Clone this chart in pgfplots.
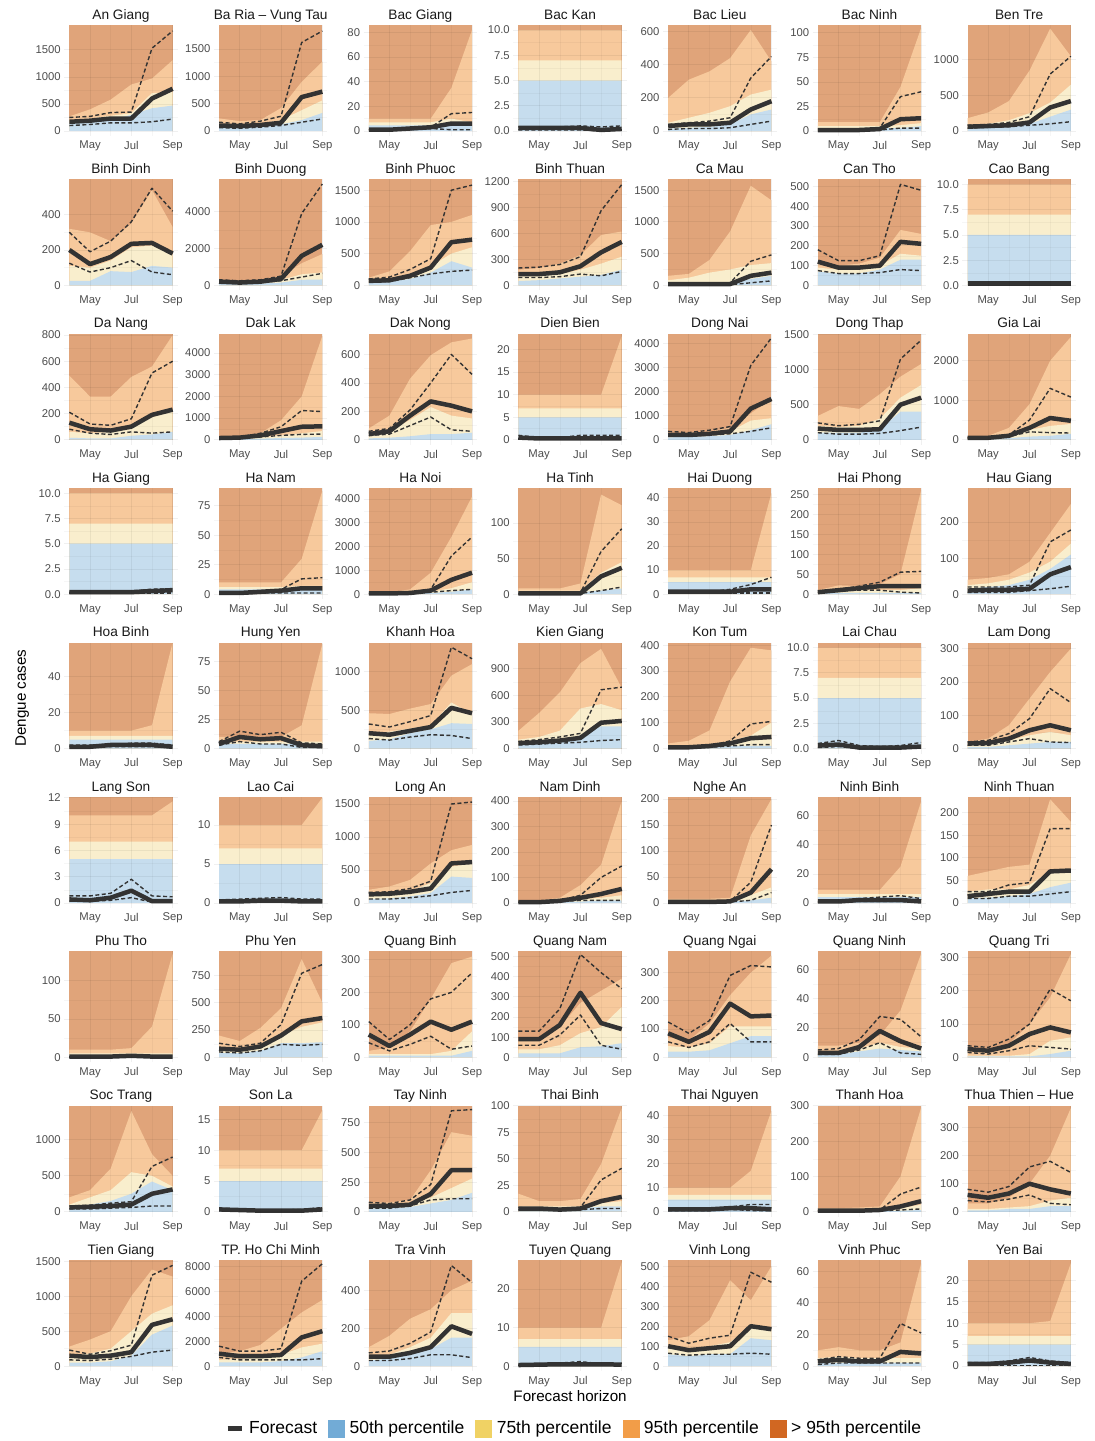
\documentclass[border=0pt]{standalone}
\usepackage{fontspec}
\setmainfont{Liberation Sans}
\usepackage{pgfplots}
\pgfplotsset{compat=1.18}
\usepgfplotslibrary{groupplots}

\definecolor{cR}{HTML}{E0A47A}
\definecolor{cO}{HTML}{F7C99C}
\definecolor{cY}{HTML}{F9EECD}
\definecolor{cB}{HTML}{C6DDEE}
\definecolor{lc}{HTML}{333333}
\definecolor{tg}{HTML}{4D4D4D}
\definecolor{kLB}{HTML}{72ABD6}
\definecolor{kLY}{HTML}{F0D264}
\definecolor{kLO}{HTML}{F29D48}
\definecolor{kLR}{HTML}{D16722}

\tikzset{
  mline/.style={lc, line width=4.5pt, line join=round},
  qline/.style={lc, line width=1.4pt, dash pattern=on 4pt off 2.5pt, line join=round},
}
\pgfplotsset{
  dec/.style={yticklabel style={/pgf/number format/.cd, fixed, zerofill, precision=1}},
  every axis y label/.style={at={(rel axis cs:0,0.5)}, xshift=-42pt, rotate=90, anchor=center,
    font=\fontsize{15.2}{18}\selectfont},
  every axis x label/.style={at={(rel axis cs:0.5,0)}, yshift=-25pt, anchor=center,
    font=\fontsize{15.2}{18}\selectfont},
  every axis title/.style={at={(0.5,1)}, anchor=base, yshift=6pt,
    font=\fontsize{13.7}{16}\selectfont, text=black!90},
}

% one panel: [extra options]{title}{ymin}{top}{y ticks}
\newcommand\panel[5][]{%
  \nextgroupplot[title={#2}, ymin=#3, ymax=#4, ytick={#5}, #1]
  \addplot[draw=none, fill=cR] coordinates {(4,#4) (9,#4)} \closedcycle;}
% series over Apr..Sep
\def\Ar#1:#2 #3 #4 #5 #6 #7;{\addplot[draw=none, fill=#1] coordinates {(4,#2) (5,#3) (6,#4) (7,#5) (8,#6) (9,#7)} \closedcycle;}
\def\Ln#1:#2 #3 #4 #5 #6 #7;{\addplot[#1] coordinates {(4,#2) (5,#3) (6,#4) (7,#5) (8,#6) (9,#7)};}

\begin{document}
\begin{tikzpicture}
\begin{groupplot}[
  group style={group size=7 by 9, horizontal sep=36.1pt, vertical sep=43.4pt},
  scale only axis, width=113.6pt, height=111pt,
  xmin=3.75, xmax=9.25,
  xtick={5,7,9}, xticklabels={May,Jul,Sep},
  minor x tick num=1, minor y tick num=1,
  grid=both,
  major grid style={black, opacity=0.06, line width=0.8pt},
  minor grid style={black, opacity=0.035, line width=0.4pt},
  axis line style={draw=none},
  major tick length=0pt, minor tick length=0pt,
  axis on top,
  scaled y ticks=false,
  /pgf/number format/1000 sep={},
  /pgf/number format/assume math mode=true,
  tick label style={font=\fontsize{11.3}{13}\selectfont, text=tg},
  xticklabel style={yshift=-1.5pt},
]
% ---- row 1
\panel{An Giang}{-93}{1960}{0,500,1000,1500}
\Ar cO:270 400 580 860 970 1310;
\Ar cY:200 230 280 330 700 720;
\Ar cB:150 170 200 300 420 470;
\Ln qline:250 270 340 350 1530 1850;
\Ln qline:100 120 150 150 170 220;
\Ln mline:170 190 230 230 600 780;
\panel{Ba Ria -- Vung Tau}{-92}{1940}{0,500,1000,1500}
\Ar cO:230 180 200 420 900 1270;
\Ar cY:100 90 130 200 380 560;
\Ar cB:50 60 80 120 200 330;
\Ln qline:160 130 180 270 1620 1830;
\Ln qline:60 50 70 100 160 220;
\Ln mline:100 90 110 150 620 720;
\panel{Bac Giang}{-4.1}{86}{0,20,40,60,80}
\Ar cO:10 10 10 10 35 82;
\Ar cY:7 7 7 7 10 7;
\Ar cB:4.5 4.5 4.5 4.5 4.5 5;
\Ln qline:1 1 2 3 14 15;
\Ln qline:1 1 1 2 1 1;
\Ln mline:1 1 2 3 6 6;
\panel[dec]{Bac Kan}{-0.5}{10.5}{0,2.5,5,7.5,10}
\Ar cO:10 10 10 10 10 10;
\Ar cY:7 7 7 7 7 7;
\Ar cB:5 5 5 5 5 5;
\Ln qline:0.4 0.4 0.4 0.5 0.4 0.5;
\Ln qline:0.1 0.1 0.1 0.1 0 0.1;
\Ln mline:0.3 0.3 0.3 0.3 0.1 0.2;
\panel{Bac Lieu}{-30}{640}{0,200,400,600}
\Ar cO:200 310 360 440 610 420;
\Ar cY:50 80 110 150 220 250;
\Ar cB:15 20 25 40 100 130;
\Ln qline:40 50 60 80 320 450;
\Ln qline:10 15 15 20 40 60;
\Ln mline:30 40 40 50 130 180;
\panel{Bac Ninh}{-5.1}{108}{0,25,50,75,100}
\Ar cO:9 9 9 9 45 105;
\Ar cY:5 5 5 5 6 8;
\Ar cB:3 3 3 3 3 5;
\Ln qline:2 2 2 3 35 40;
\Ln qline:0 0 0 1 3 3;
\Ln mline:1 1 1 2 12 13;
\panel{Ben Tre}{-71}{1490}{0,500,1000}
\Ar cO:180 260 420 850 1440 1050;
\Ar cY:80 100 150 250 400 650;
\Ar cB:40 50 60 100 200 300;
\Ln qline:80 90 120 200 800 1050;
\Ln qline:40 50 60 80 100 130;
\Ln mline:60 70 80 120 330 420;
% ---- row 2
\panel{Binh Dinh}{-29}{600}{0,200,400}
\Ar cO:320 300 250 350 540 330;
\Ar cY:110 100 140 215 225 175;
\Ar cB:25 25 80 75 110 100;
\Ln qline:300 190 250 360 550 420;
\Ln qline:125 75 100 140 75 60;
\Ln mline:200 120 160 235 240 180;
\panel{Binh Duong}{-274}{5750}{0,2000,4000}
\Ar cO:300 250 300 500 1200 1700;
\Ar cY:200 200 200 300 600 700;
\Ar cB:100 100 100 150 300 320;
\Ln qline:300 250 300 500 3900 5500;
\Ln qline:150 100 150 250 450 650;
\Ln mline:200 150 200 350 1600 2200;
\panel{Binh Phuoc}{-80}{1670}{0,500,1000,1500}
\Ar cO:120 220 540 950 1000 1110;
\Ar cY:80 100 180 300 500 600;
\Ar cB:50 60 100 200 380 280;
\Ln qline:100 130 250 420 1500 1580;
\Ln qline:50 60 120 180 220 240;
\Ln mline:70 80 150 280 680 720;
\panel{Binh Thuan}{-58}{1220}{0,300,600,900,1200}
\Ar cO:180 200 250 350 580 620;
\Ar cY:110 110 130 180 250 330;
\Ar cB:50 60 80 100 120 180;
\Ln qline:200 210 240 330 860 1160;
\Ln qline:90 90 100 130 110 160;
\Ln mline:130 130 150 220 380 500;
\panel{Ca Mau}{-80}{1670}{0,500,1000,1500}
\Ar cO:150 180 400 850 1570 1340;
\Ar cY:80 120 200 250 320 350;
\Ar cB:20 20 30 40 100 150;
\Ln qline:30 30 30 40 380 480;
\Ln qline:10 10 10 10 40 70;
\Ln mline:20 20 20 20 150 200;
\panel{Can Tho}{-25}{535}{0,100,200,300,400,500}
\Ar cO:120 100 110 140 280 260;
\Ar cY:90 80 80 100 160 150;
\Ar cB:70 60 60 80 130 130;
\Ln qline:180 125 125 150 510 480;
\Ln qline:75 60 60 65 80 75;
\Ln mline:120 90 90 100 220 210;
\panel[dec]{Cao Bang}{-0.5}{10.5}{0,2.5,5,7.5,10}
\Ar cO:10 10 10 10 10 10;
\Ar cY:7 7 7 7 7 7;
\Ar cB:5 5 5 5 5 5;
\Ln qline:0.3 0.3 0.3 0.3 0.3 0.3;
\Ln qline:0.1 0.1 0.1 0.1 0.1 0.1;
\Ln mline:0.2 0.2 0.2 0.2 0.2 0.2;
% ---- row 3
\panel{Da Nang}{-39}{810}{0,200,400,600,800}
\Ar cO:490 330 330 480 560 800;
\Ar cY:60 50 60 100 170 220;
\Ar cB:15 10 10 30 40 60;
\Ln qline:210 120 110 160 510 600;
\Ln qline:80 50 40 60 50 60;
\Ln mline:130 80 70 100 190 230;
\panel{Dak Lak}{-233}{4890}{0,1000,2000,3000,4000}
\Ar cO:80 120 300 900 2000 4800;
\Ar cY:50 60 100 200 300 400;
\Ar cB:30 30 50 80 100 130;
\Ln qline:90 120 300 600 1350 1300;
\Ln qline:70 80 130 200 250 260;
\Ln mline:80 100 200 400 600 620;
\panel{Dak Nong}{-35}{745}{0,200,400,600}
\Ar cO:80 170 430 595 685 712;
\Ar cY:30 60 140 230 170 150;
\Ar cB:10 15 25 40 40 50;
\Ln qline:60 80 210 400 600 460;
\Ln qline:30 40 100 160 70 60;
\Ln mline:40 60 170 270 240 200;
\panel{Dien Bien}{-1.1}{23.5}{0,5,10,15,20}
\Ar cO:10 10 10 10 10 23;
\Ar cY:7 7 7 7 7 7;
\Ar cB:5 5 5 5 5 5;
\Ln qline:1 0.5 0.5 1 1 1;
\Ln qline:0.2 0.2 0.2 0.2 0.2 0.2;
\Ln mline:0.5 0.3 0.3 0.3 0.3 0.3;
\panel{Dong Nai}{-210}{4420}{0,1000,2000,3000,4000}
\Ar cO:300 300 350 500 1100 1700;
\Ar cY:200 200 250 350 800 900;
\Ar cB:100 120 150 200 400 650;
\Ln qline:350 300 400 550 3100 4250;
\Ln qline:150 150 200 250 350 500;
\Ln mline:200 200 250 350 1300 1700;
\panel{Dong Thap}{-72}{1510}{0,500,1000,1500}
\Ar cO:340 480 440 650 900 1080;
\Ar cY:200 180 200 300 600 780;
\Ar cB:100 100 100 150 400 400;
\Ln qline:240 200 220 270 1150 1420;
\Ln qline:100 80 80 90 130 180;
\Ln mline:160 140 140 150 500 600;
\panel{Gia Lai}{-128}{2680}{0,1000,2000}
\Ar cO:80 100 300 900 2000 2600;
\Ar cY:60 50 100 250 350 400;
\Ar cB:30 30 40 80 100 150;
\Ln qline:60 60 120 500 1300 1080;
\Ln qline:40 40 80 200 180 170;
\Ln mline:50 50 100 300 550 480;
% ---- row 4
\panel[dec]{Ha Giang}{-0.5}{10.5}{0,2.5,5,7.5,10}
\Ar cO:10 10 10 10 10 10;
\Ar cY:7 7 7 7 7 7;
\Ar cB:5 5 5 5 5 5;
\Ln qline:0.2 0.2 0.2 0.3 0.5 0.5;
\Ln qline:0.1 0.1 0.1 0.1 0.1 0.1;
\Ln mline:0.2 0.2 0.2 0.2 0.3 0.4;
\panel{Ha Nam}{-4.3}{90}{0,25,50,75}
\Ar cO:10 10 10 10 30 88;
\Ar cY:6 6 6 6 7 7;
\Ar cB:4 4 4 4 4 4;
\Ln qline:1 1 2 4 13 14;
\Ln qline:0 0 1 1 1 1;
\Ln mline:1 1 2 3 5 5;
\panel{Ha Noi}{-212}{4450}{0,1000,2000,3000,4000}
\Ar cO:50 80 200 900 2400 4100;
\Ar cY:20 30 50 100 250 500;
\Ar cB:10 10 20 50 100 200;
\Ln qline:40 40 80 200 1600 2400;
\Ln qline:20 20 30 80 150 200;
\Ln mline:30 30 50 150 600 900;
\panel{Ha Tinh}{-7.1}{149}{0,50,100}
\Ar cO:8 8 8 15 140 125;
\Ar cY:5 5 5 5 30 45;
\Ar cB:3 3 3 3 5 8;
\Ln qline:1 1 1 2 60 92;
\Ln qline:0 0 0 1 5 10;
\Ln mline:1 1 1 1 25 37;
\panel{Hai Duong}{-2.1}{44}{0,10,20,30,40}
\Ar cO:10 10 10 10 10 42;
\Ar cY:7 7 7 7 7 7;
\Ar cB:5 5 5 5 5 5;
\Ln qline:1 1 1 2 4 7;
\Ln qline:0.5 0.5 0.5 0.5 0.5 0.5;
\Ln mline:1 1 1 1 2 2;
\panel{Hai Phong}{-12.6}{265}{0,50,100,150,200,250}
\Ar cO:10 22 20 25 50 260;
\Ar cY:8 10 10 10 10 15;
\Ar cB:5 3 3 3 3 3;
\Ln qline:5 12 20 30 55 57;
\Ln qline:5 8 10 10 5 3;
\Ln mline:5 10 15 20 20 20;
\panel{Hau Giang}{-14}{294}{0,100,200}
\Ar cO:40 45 55 90 170 250;
\Ar cY:25 30 40 60 90 140;
\Ar cB:15 20 25 40 70 110;
\Ln qline:20 20 20 25 145 178;
\Ln qline:5 5 5 10 15 22;
\Ln mline:10 12 12 15 55 75;
% ---- row 5
\panel[ylabel={Dengue cases}]{Hoa Binh}{-2.8}{59}{0,20,40}
\Ar cO:10 10 10 10 13 59;
\Ar cY:7 7 7 7 7 7;
\Ar cB:5 5 5 5 5 5;
\Ln qline:2 2 2 3 3 2;
\Ln qline:1 1 1 1 1 0.5;
\Ln mline:1 1 2 2 2 1;
\panel{Hung Yen}{-4.3}{91}{0,25,50,75}
\Ar cO:10 10 10 10 20 90;
\Ar cY:6 6 6 6 6 6;
\Ar cB:4 4 4 4 4 4;
\Ln qline:6 15 12 14 5 4;
\Ln qline:3 6 4 4 1 1;
\Ln mline:4 10 8 9 3 2;
\panel{Khanh Hoa}{-66}{1380}{0,500,1000}
\Ar cO:460 450 520 580 950 1100;
\Ar cY:200 220 260 300 600 450;
\Ar cB:100 120 200 250 330 320;
\Ln qline:320 280 350 430 1320 1170;
\Ln qline:130 110 150 180 170 130;
\Ln mline:200 180 230 280 530 460;
\panel{Kien Giang}{-57}{1190}{0,300,600,900}
\Ar cO:200 400 630 960 1120 680;
\Ar cY:100 130 200 450 500 430;
\Ar cB:50 60 80 150 250 250;
\Ln qline:80 100 130 170 660 690;
\Ln qline:40 50 60 70 90 100;
\Ln mline:60 70 90 120 290 310;
\panel{Kon Tum}{-19.5}{410}{0,100,200,300,400}
\Ar cO:20 30 70 260 390 380;
\Ar cY:10 10 15 30 50 100;
\Ar cB:5 5 5 10 10 10;
\Ln qline:5 5 10 30 95 105;
\Ln qline:3 3 5 10 15 15;
\Ln mline:5 5 10 20 40 45;
\panel[dec]{Lai Chau}{-0.5}{10.5}{0,2.5,5,7.5,10}
\Ar cO:10 10 10 10 10 10;
\Ar cY:7 7 7 7 7 7;
\Ar cB:5 5 5 5 5 5;
\Ln qline:0.5 0.8 0.3 0.2 0.3 0.6;
\Ln qline:0.1 0.2 0 0 0 0.1;
\Ln mline:0.3 0.4 0.1 0.1 0.1 0.2;
\panel{Lam Dong}{-15}{318}{0,100,200,300}
\Ar cO:20 30 70 150 230 300;
\Ar cY:10 15 25 40 50 40;
\Ar cB:5 5 10 15 20 20;
\Ln qline:20 25 45 90 180 138;
\Ln qline:10 10 20 30 20 18;
\Ln mline:15 17 30 55 70 55;
% ---- row 6
\panel{Lang Son}{-0.58}{12.1}{0,3,6,9,12}
\Ar cO:10 10 10 10 10 11.6;
\Ar cY:7 7 7 7 7 7;
\Ar cB:5 5 5 5 5 5;
\Ln qline:0.8 0.8 1.1 2.7 0.8 0.7;
\Ln qline:0.2 0.2 0.3 0.6 0.1 0.1;
\Ln mline:0.4 0.3 0.6 1.4 0.2 0.2;
\panel{Lao Cai}{-0.65}{13.6}{0,5,10}
\Ar cO:10 10 10 10 10 13.5;
\Ar cY:7 7 7 7 7 7;
\Ar cB:5 5 5 5 5 5;
\Ln qline:0.4 0.5 0.6 0.7 0.5 0.5;
\Ln qline:0.1 0.1 0.1 0.1 0.1 0.1;
\Ln mline:0.2 0.2 0.3 0.3 0.2 0.2;
\panel{Long An}{-76}{1606}{0,500,1000,1500}
\Ar cO:200 250 350 600 800 880;
\Ar cY:100 120 180 300 550 600;
\Ar cB:60 70 100 150 400 380;
\Ln qline:160 170 220 330 1500 1530;
\Ln qline:60 60 80 110 160 190;
\Ln mline:130 140 170 220 600 620;
\panel{Nam Dinh}{-20}{416}{0,100,200,300,400}
\Ar cO:10 10 20 70 150 400;
\Ar cY:8 8 10 15 20 30;
\Ar cB:5 5 5 5 10 10;
\Ln qline:3 3 10 30 100 145;
\Ln qline:2 2 5 10 10 10;
\Ln mline:3 3 8 20 35 55;
\panel{Nghe An}{-9.7}{204}{0,50,100,150,200}
\Ar cO:8 8 8 10 130 200;
\Ar cY:5 5 5 5 15 30;
\Ar cB:3 3 3 3 5 10;
\Ln qline:2 2 2 3 40 150;
\Ln qline:1 1 1 2 5 20;
\Ln mline:2 2 2 3 20 65;
\panel{Ninh Binh}{-3.5}{73}{0,20,40,60}
\Ar cO:9 9 9 9 25 70;
\Ar cY:6 6 6 6 6 6;
\Ar cB:4 4 4 4 4 4;
\Ln qline:1 1 3 4 5 3;
\Ln qline:0.5 0.5 1 1 1 0.5;
\Ln mline:1 1 2 2 2 1;
\panel{Ninh Thuan}{-11.2}{235}{0,50,100,150,200}
\Ar cO:60 70 80 85 230 180;
\Ar cY:25 30 30 40 70 75;
\Ar cB:10 12 15 20 35 45;
\Ln qline:25 25 40 45 165 165;
\Ln qline:10 10 15 15 20 25;
\Ln mline:15 20 25 25 70 72;
% ---- row 7
\panel{Phu Tho}{-6.6}{138}{0,50,100}
\Ar cO:10 10 10 12 40 135;
\Ar cY:5 5 5 5 5 5;
\Ar cB:3 3 3 3 3 3;
\Ln qline:1 1 1 3 2 1;
\Ln qline:0.5 0.5 0.5 0.5 0.5 0.5;
\Ln mline:1 1 1 2 1 1;
\panel{Phu Yen}{-46}{970}{0,250,500,750}
\Ar cO:200 150 270 450 900 500;
\Ar cY:70 60 90 200 280 320;
\Ar cB:40 40 60 130 130 140;
\Ln qline:130 100 130 300 770 850;
\Ln qline:50 40 60 120 110 120;
\Ln mline:80 70 100 200 330 360;
\panel{Quang Binh}{-15.5}{326}{0,100,200,300}
\Ar cO:20 30 80 180 290 310;
\Ar cY:10 10 10 10 20 80;
\Ar cB:5 5 5 5 5 20;
\Ln qline:110 55 100 180 200 260;
\Ln qline:45 20 40 65 25 35;
\Ln mline:70 35 70 110 85 110;
\panel{Quang Nam}{-25}{525}{0,100,200,300,400,500}
\Ar cO:80 90 150 270 330 390;
\Ar cY:40 40 60 120 150 250;
\Ar cB:20 20 20 50 55 70;
\Ln qline:130 130 240 510 420 340;
\Ln qline:60 60 110 210 60 40;
\Ln mline:90 90 160 320 170 140;
\panel{Quang Ngai}{-17.9}{375}{0,100,200,300}
\Ar cO:70 60 120 220 300 360;
\Ar cY:40 35 50 110 110 110;
\Ar cB:20 20 25 50 75 75;
\Ln qline:125 85 130 290 325 320;
\Ln qline:55 35 55 120 55 55;
\Ln mline:85 55 90 190 145 148;
\panel{Quang Ninh}{-3.5}{72.5}{0,20,40,60}
\Ar cO:8 8 10 15 32 71;
\Ar cY:3 4 6 10 7 6;
\Ar cB:2 2 4 6 5 4;
\Ln qline:5 6 12 28 26 14;
\Ln qline:2 2 5 10 3 2;
\Ln mline:3 3 7 18 11 6;
\panel{Quang Tri}{-15}{318}{0,100,200,300}
\Ar cO:20 20 40 100 180 310;
\Ar cY:5 5 5 10 50 60;
\Ar cB:3 3 3 3 10 20;
\Ln qline:35 30 55 100 205 170;
\Ln qline:15 10 20 35 30 25;
\Ln mline:25 20 35 70 90 75;
% ---- row 8
\panel{Soc Trang}{-70}{1472}{0,500,1000}
\Ar cO:200 300 600 1400 800 500;
\Ar cY:100 200 300 550 500 350;
\Ar cB:50 100 150 250 420 300;
\Ln qline:80 90 120 140 630 760;
\Ln qline:40 40 50 60 80 80;
\Ln mline:60 70 80 100 250 310;
\panel{Son La}{-0.8}{17.2}{0,5,10,15}
\Ar cO:10 10 10 10 10 16.5;
\Ar cY:7 7 7 7 7 7;
\Ar cB:5 5 5 5 5 5;
\Ln qline:0.6 0.4 0.3 0.3 0.4 0.7;
\Ln qline:0.2 0.1 0.1 0.1 0.1 0.2;
\Ln mline:0.4 0.3 0.2 0.2 0.2 0.4;
\panel{Tay Ninh}{-42}{892}{0,250,500,750}
\Ar cO:80 80 100 350 670 640;
\Ar cY:50 50 60 120 200 280;
\Ar cB:30 30 40 70 100 160;
\Ln qline:80 70 100 230 850 860;
\Ln qline:30 30 50 100 110 110;
\Ln mline:50 50 60 150 350 350;
\panel{Thai Binh}{-4.8}{100}{0,25,50,75,100}
\Ar cO:17 10 10 12 45 98;
\Ar cY:5 5 5 5 8 10;
\Ar cB:3 3 3 3 5 5;
\Ln qline:4 3 3 4 30 41;
\Ln qline:2 2 2 2 3 3;
\Ln mline:3 3 2 3 10 14;
\panel{Thai Nguyen}{-2.1}{44}{0,10,20,30,40}
\Ar cO:10 10 10 10 17 42;
\Ar cY:7 7 7 7 7 7;
\Ar cB:5 5 5 5 5 5;
\Ln qline:1 1 1 2 3 3;
\Ln qline:0.5 0.5 0.5 1 0.5 0.5;
\Ln mline:1 1 1 1.5 1.5 1;
\panel{Thanh Hoa}{-14.3}{300}{0,100,200,300}
\Ar cO:10 10 12 15 100 295;
\Ar cY:5 5 5 5 10 20;
\Ar cB:2 2 2 2 3 5;
\Ln qline:3 3 3 5 50 70;
\Ln qline:2 2 2 3 5 8;
\Ln mline:3 3 3 5 15 30;
\panel{Thua Thien -- Hue}{-18}{378}{0,100,200,300}
\Ar cO:30 30 50 100 200 370;
\Ar cY:10 10 15 20 40 50;
\Ar cB:5 5 10 10 20 20;
\Ln qline:80 70 90 160 180 140;
\Ln qline:40 35 45 60 30 25;
\Ln mline:60 50 65 100 80 65;
% ---- row 9
\panel{Tien Giang}{-72}{1514}{0,500,1000,1500}
\Ar cO:280 380 500 1000 1380 1280;
\Ar cY:150 180 250 500 750 870;
\Ar cB:50 50 70 150 450 580;
\Ln qline:230 170 220 300 1300 1440;
\Ln qline:90 80 100 140 200 230;
\Ln mline:150 130 150 200 590 670;
\panel{TP. Ho Chi Minh}{-404}{8480}{0,2000,4000,6000,8000}
\Ar cO:1000 1200 1700 3000 4300 5300;
\Ar cY:500 600 700 900 1500 1800;
\Ar cB:300 300 300 400 700 1200;
\Ln qline:1600 1200 1200 1400 6800 8200;
\Ln qline:700 500 500 500 500 600;
\Ln mline:1000 800 800 900 2300 2800;
\panel{Tra Vinh}{-26.6}{558}{0,200,400}
\Ar cO:100 160 250 300 400 450;
\Ar cY:50 60 100 150 280 280;
\Ar cB:30 40 60 90 150 150;
\Ln qline:70 80 120 180 530 440;
\Ln qline:30 30 40 60 60 45;
\Ln mline:50 50 70 100 210 170;
\panel[xlabel={Forecast horizon}]{Tuyen Quang}{-1.3}{27.5}{0,10,20}
\Ar cO:10 10 10 10 10 27;
\Ar cY:7 7 7 7 7 7;
\Ar cB:5 5 5 5 5 5;
\Ln qline:0.4 0.6 0.8 1.2 0.6 0.6;
\Ln qline:0.2 0.2 0.2 0.2 0.2 0.2;
\Ln mline:0.3 0.4 0.5 0.5 0.5 0.4;
\panel{Vinh Long}{-25}{530}{0,100,200,300,400,500}
\Ar cO:130 150 230 430 330 500;
\Ar cY:90 80 100 120 200 180;
\Ar cB:60 50 60 60 140 130;
\Ln qline:150 115 140 155 470 420;
\Ln qline:65 55 60 60 65 60;
\Ln mline:100 80 90 100 200 185;
\panel{Vinh Phuc}{-3.2}{67}{0,20,40,60}
\Ar cO:10 12 10 10 15 65;
\Ar cY:5 6 5 5 5 5;
\Ar cB:2 2 2 2 2 2;
\Ln qline:4 6 5 5 27 21;
\Ln qline:1 2 2 2 2 2;
\Ln mline:3 4 3 3 9 8;
\panel{Yen Bai}{-1.2}{24.7}{0,5,10,15,20}
\Ar cO:10 10 10 10 10.5 24;
\Ar cY:7 7 7 7 7 7;
\Ar cB:5 5 5 5 5 5;
\Ln qline:0.8 0.8 1.2 2 1.2 0.8;
\Ln qline:0.2 0.2 0.2 0.2 0.2 0.2;
\Ln mline:0.5 0.5 0.8 1.3 0.8 0.5;
\end{groupplot}

% legend
\begin{axis}[at={(group c4r9.south)}, anchor=center, xshift=4pt, yshift=-57pt,
  hide axis, scale only axis, width=10pt, height=10pt,
  xmin=0, xmax=1, ymin=0, ymax=1,
  legend columns=-1,
  legend style={at={(0.5,0.5)}, anchor=center, draw=none, fill=none,
    font=\fontsize{17.5}{20}\selectfont,
    /tikz/every odd column/.append style={column sep=3pt},
    /tikz/every even column/.append style={column sep=9pt}},
]
\addlegendimage{legend image code/.code={\draw[lc, line width=5pt] (0pt,0pt) -- (14pt,0pt);}}
\addlegendentry{Forecast\hspace{17pt}}
\addlegendimage{legend image code/.code={\fill[kLB] (0pt,-8.5pt) rectangle (16pt,8.5pt);}}
\addlegendentry{50th percentile}
\addlegendimage{legend image code/.code={\fill[kLY] (0pt,-8.5pt) rectangle (16pt,8.5pt);}}
\addlegendentry{75th percentile}
\addlegendimage{legend image code/.code={\fill[kLO] (0pt,-8.5pt) rectangle (16pt,8.5pt);}}
\addlegendentry{95th percentile}
\addlegendimage{legend image code/.code={\fill[kLR] (0pt,-8.5pt) rectangle (16pt,8.5pt);}}
\addlegendentry{> 95th percentile}
\end{axis}

\pgfresetboundingbox
\path[use as bounding box] ([shift={(-64.2pt,25pt)}]group c1r1.north west) rectangle ++(1095pt,-1441pt);
\end{tikzpicture}
\end{document}
